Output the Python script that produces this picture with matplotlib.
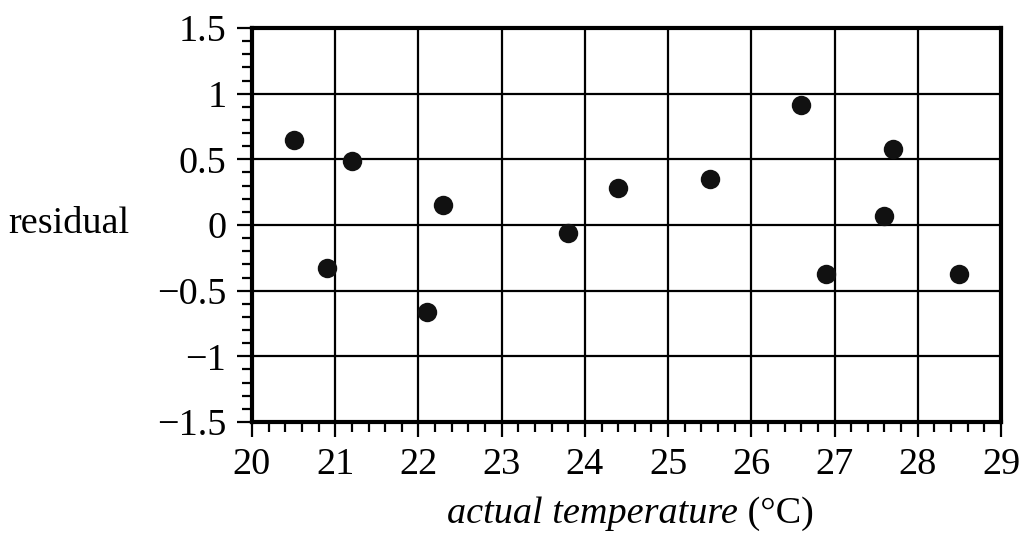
import matplotlib
matplotlib.use("Agg")
import matplotlib.pyplot as plt
from matplotlib.ticker import MultipleLocator, FuncFormatter

temperature = [20.5, 20.9, 21.2, 22.1, 22.3, 23.8, 24.4, 25.5, 26.6, 26.9, 27.6, 27.7, 28.5]
residual = [0.65, -0.33, 0.49, -0.66, 0.15, -0.06, 0.28, 0.35, 0.91, -0.37, 0.07, 0.58, -0.37]

x_range = (20, 29)
y_range = (-1.5, 1.5)

plt.rcParams['font.family'] = ['Liberation Serif', 'DejaVu Serif']
FS = 27.5

fig = plt.figure(figsize=(10.34, 5.43), dpi=100)
ax = fig.add_axes([252/1034, 1-422/543, (1001-252)/1034, (422-28)/543])

ax.scatter(temperature, residual, s=14.0**2, color='#111111', zorder=3, linewidths=0)

ax.set_xlim(*x_range)
ax.set_ylim(*y_range)
ax.xaxis.set_major_locator(MultipleLocator(1))
ax.xaxis.set_minor_locator(MultipleLocator(0.2))
ax.yaxis.set_major_locator(MultipleLocator(0.5))
ax.yaxis.set_minor_locator(MultipleLocator(0.1))

def yfmt(v, pos):
    if abs(v) < 1e-9:
        return '0'
    s = ('%g' % v)
    return s.replace('-', '\u2212')
ax.yaxis.set_major_formatter(FuncFormatter(yfmt))

ax.grid(True, which='major', color='black', linewidth=1.6)
for sp in ax.spines.values():
    sp.set_linewidth(3)
    sp.set_zorder(4)

ax.tick_params(which='major', direction='out', length=10.5, width=1.6, labelsize=FS, pad=8)
ax.tick_params(which='minor', direction='out', length=7, width=1.6)

fig.text(8/1034, 1-233/543, 'residual', fontsize=FS, ha='left', va='baseline')

t1 = fig.text(447/1034, 1-523/543, 'actual temperature', fontsize=FS, style='italic',
              ha='left', va='baseline')
ax.annotate(' (°C)', xy=(1, 0), xycoords=t1, fontsize=FS, ha='left', va='bottom',
            annotation_clip=False)

fig.savefig('out.png', dpi=100)
